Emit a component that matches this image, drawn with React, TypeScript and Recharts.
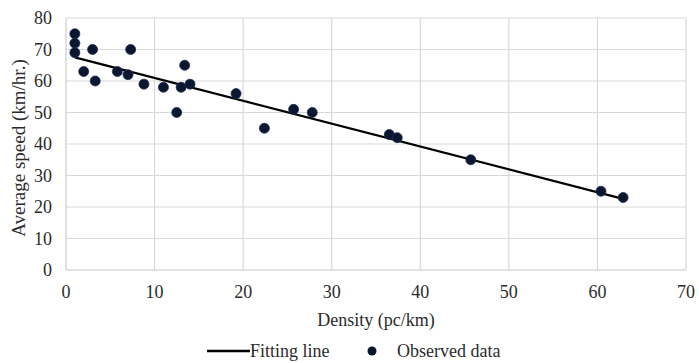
import React from 'react';
import { ScatterChart, Scatter, XAxis, YAxis, CartesianGrid, Legend } from 'recharts';

const densityObs = [1, 1, 1, 2, 3, 3.3, 5.8, 7, 7.3, 8.8, 11, 12.5, 13, 13.4, 14, 19.2, 22.4, 25.7, 27.8, 36.5, 37.4, 45.7, 60.4, 62.9];
const speedObs = [75, 72, 69, 63, 70, 60, 63, 62, 70, 59, 58, 50, 58, 65, 59, 56, 45, 51, 50, 43, 42, 35, 25, 23];
const densityFit = [1, 63];
const speedFit = [67.5, 22.5];
const xTicks = [0, 10, 20, 30, 40, 50, 60, 70];
const yTicks = [0, 10, 20, 30, 40, 50, 60, 70, 80];

const observed = densityObs.map((x, i) => ({ x, y: speedObs[i] }));
const fitting = densityFit.map((x, i) => ({ x, y: speedFit[i] }));

const FONT = '"Liberation Serif", "DejaVu Serif", serif';
const FS = 18;
const TXT = '#2b2b2b';
const DOT = '#0b1630';

const Dot = (props: any) => {
  const { cx, cy } = props;
  if (cx == null || cy == null) return <g />;
  return <circle cx={cx} cy={cy} r={5} fill={DOT} stroke="#1c2c52" strokeWidth={0.8} />;
};
const NoShape = () => <g />;

const LegendContent = () => (
  <svg width={699} height={24} style={{ display: 'block', fontFamily: FONT }}>
    <line x1={207} x2={250} y1={12} y2={12} stroke="#000" strokeWidth={2.5} />
    <text x={250} y={18} style={{ fontFamily: FONT, fontSize: FS }} fill={TXT}>Fitting line</text>
    <circle cx={372} cy={12} r={4.5} fill={DOT} />
    <text x={397} y={18} style={{ fontFamily: FONT, fontSize: FS }} fill={TXT}>Observed data</text>
  </svg>
);

const tickStyle = { fontFamily: FONT, fontSize: FS, fill: TXT, style: { fontFamily: FONT } };

export default function App() {
  return (
    <div style={{ position: 'absolute', left: 0, top: 0, width: 699, height: 363, background: '#fff', fontFamily: FONT }}>
      <ScatterChart width={699} height={363} margin={{ top: 18, right: 13, left: 0, bottom: 0 }} style={{ fontFamily: FONT }}>
        <CartesianGrid stroke="#d9d9d9" strokeWidth={1.2} />
        <XAxis
          type="number"
          dataKey="x"
          domain={[0, 70]}
          ticks={xTicks}
          interval={0}
          height={69}
          axisLine={{ stroke: '#d9d9d9' }}
          tickLine={false}
          tickMargin={9}
          tick={tickStyle}
          label={{ value: 'Density (pc/km)', position: 'insideBottom', offset: 13, style: { fontFamily: FONT, fontSize: FS, fill: TXT } }}
        />
        <YAxis
          type="number"
          dataKey="y"
          domain={[0, 80]}
          ticks={yTicks}
          interval={0}
          width={66}
          axisLine={{ stroke: '#d9d9d9' }}
          tickLine={false}
          tickMargin={8}
          tick={tickStyle}
          label={{ value: 'Average speed (km/hr.)', angle: -90, position: 'insideLeft', offset: 18, dy: 4, style: { textAnchor: 'middle', fontFamily: FONT, fontSize: 19, fill: TXT } }}
        />
        <Legend verticalAlign="bottom" height={24} content={<LegendContent />} />
        <Scatter name="Fitting line" data={fitting} line={{ stroke: '#000', strokeWidth: 2.2 }} shape={<NoShape />} isAnimationActive={false} />
        <Scatter name="Observed data" data={observed} shape={<Dot />} isAnimationActive={false} />
      </ScatterChart>
    </div>
  );
}
